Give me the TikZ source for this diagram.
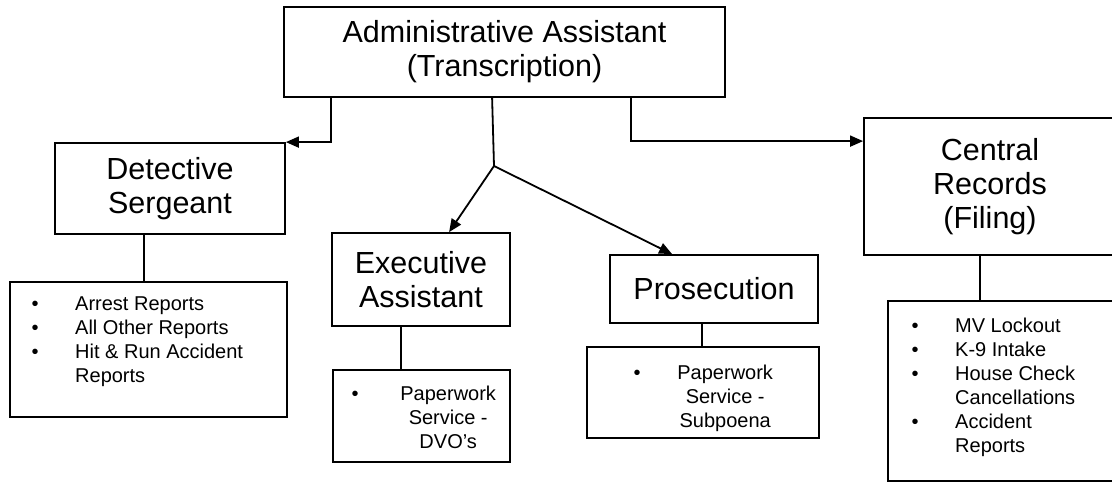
\documentclass[tikz,border=0pt]{standalone}
\usepackage{fontspec}
\setmainfont{Liberation Sans}
\usetikzlibrary{arrows.meta}

% bullet followed by a fixed gap before the item text
\newcommand\itembullet[1]{\makebox[#1][l]{\textbullet}}

\tikzset{
  head/.style={draw, line width=1.8pt, inner sep=0pt, align=center,
    font=\fontsize{30.5}{34}\selectfont},
  listbox/.style={draw, line width=1.8pt, inner sep=0pt},
  itemtext/.style={inner sep=0pt, anchor=base west,
    font=\fontsize{20}{24}\selectfont},
  link/.style={line width=1.8pt},
  arr/.style={link, -{Triangle[length=13pt,width=11pt]}},
}

\begin{document}
\begin{tikzpicture}[x=1pt, y=-1pt]
\useasboundingbox (0,0) rectangle (1112,483);
\clip (0,0) rectangle (1112,483);

% heading boxes
\node[head, minimum width=441pt, minimum height=90pt] (top) at (504.5,52)
  {Administrative Assistant\\(Transcription)};
\node[head, minimum width=230pt, minimum height=91pt] (det) at (170,188.5)
  {Detective\\Sergeant};
\node[head, minimum width=178pt, minimum height=93pt] (exe) at (421,279.5)
  {Executive\\Assistant};
\node[head, minimum width=208pt, minimum height=68pt] (pro) at (714,289)
  {Prosecution};
\node[head, minimum width=252pt, minimum height=137pt] (cen) at (990,186.5)
  {Central\\Records\\(Filing)};

% duty list boxes
\node[listbox, minimum width=277pt, minimum height=135pt] (detl) at (148.5,349.5) {};
\node[listbox, minimum width=177pt, minimum height=92pt] (exel) at (421.5,416) {};
\node[listbox, minimum width=232pt, minimum height=91pt] (prol) at (703,392.5) {};
\node[listbox, minimum width=228pt, minimum height=180pt] (cenl) at (1002,391) {};

% list contents
\node[itemtext] (detlt) at (31.5,310) {\parbox[t]{250pt}{\raggedright
  \itembullet{43.5pt}Arrest Reports\\
  \itembullet{43.5pt}All Other Reports\\
  \itembullet{43.5pt}Hit \& Run Accident\\
  \hspace*{43.5pt}Reports}};
\node[itemtext] (exelt) at (351.5,400) {\itembullet{46.5pt}\parbox[t]{100pt}{\centering
  Paperwork\\Service -\\DVO's}};
\node[itemtext] (prolt) at (633.5,379) {\itembullet{41.5pt}\parbox[t]{100pt}{\centering
  Paperwork\\Service -\\Subpoena}};
\node[itemtext] (cenlt) at (911.5,332) {\parbox[t]{200pt}{\raggedright
  \itembullet{43.5pt}MV Lockout\\
  \itembullet{43.5pt}K-9 Intake\\
  \itembullet{43.5pt}House Check\\
  \hspace*{43.5pt}Cancellations\\
  \itembullet{43.5pt}Accident\\
  \hspace*{43.5pt}Reports}};

% connectors from the top box
\draw[arr] ([xshift=48pt]top.south west) |- (det.north east);
\draw[arr] ([xshift=348pt]top.south west) |- ([yshift=-24pt]cen.north west);
\coordinate (fork) at (494,166);
\draw[link] ([xshift=209pt]top.south west) -- (fork);
\draw[arr] (fork) -- ([xshift=118pt]exe.north west);
\draw[arr] (fork) -- ([xshift=63pt]pro.north west);

% connectors from heading boxes to their lists
\draw[link] ([xshift=90pt]det.south west) -- ([xshift=90pt]det.south west |- detl.north);
\draw[link] ([xshift=70pt]exe.south west) -- ([xshift=70pt]exe.south west |- exel.north);
\draw[link] ([xshift=93pt]pro.south west) -- ([xshift=93pt]pro.south west |- prol.north);
\draw[link] ([xshift=117pt]cen.south west) -- ([xshift=117pt]cen.south west |- cenl.north);
\end{tikzpicture}
\end{document}
